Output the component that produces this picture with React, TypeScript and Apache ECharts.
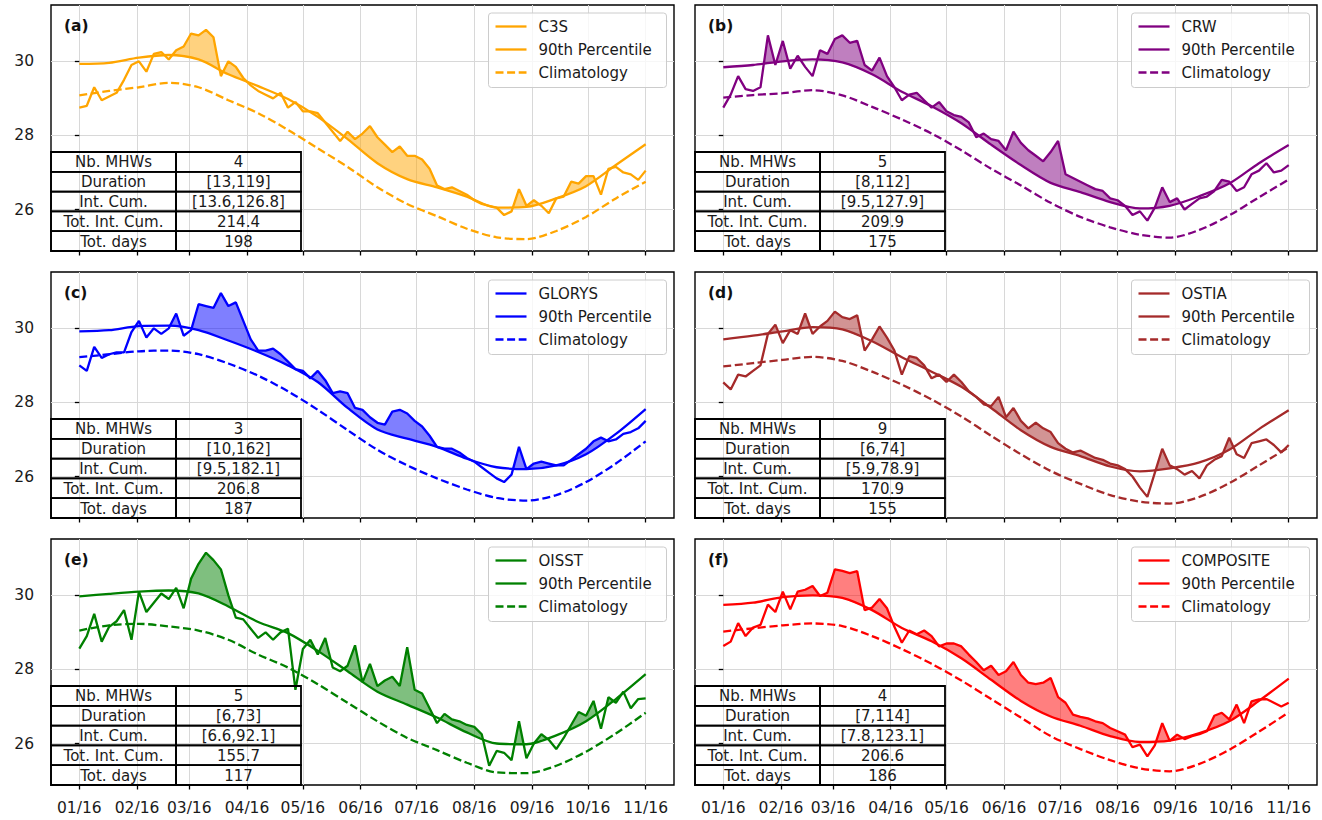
import React, { useEffect, useRef } from 'react';
import * as echarts from 'echarts';

// ---------- axes ----------
const TICK_DAYS = [0, 31, 59, 90, 120, 151, 181, 212, 243, 273, 304];
const TICK_LABELS = ['01/16', '02/16', '03/16', '04/16', '05/16', '06/16', '07/16', '08/16', '09/16', '10/16', '11/16'];
const Y_TICKS = [26, 28, 30];
const SST_STEP = 4; // days between SST samples (starting 01/16)
const CURVE_STEP = 16; // days between threshold / climatology samples

// ---------- data ----------
const SST_A = [28.75, 28.8, 29.3, 28.95, 29.05, 29.15, 29.5, 29.9, 30.0, 29.72, 30.2, 30.25, 30.05, 30.3, 30.4, 30.75, 30.7, 30.85, 30.65, 29.6, 30.0, 29.85, 29.55, 29.35, 29.2, 29.1, 29.0, 29.15, 28.75, 28.9, 28.65, 28.65, 28.6, 28.35, 28.1, 27.85, 28.1, 27.9, 28.05, 28.25, 27.95, 27.75, 27.55, 27.7, 27.45, 27.45, 27.35, 27.1, 26.65, 26.55, 26.6, 26.5, 26.4, 26.25, 26.15, 26.1, 26.05, 25.85, 25.95, 26.55, 26.1, 26.25, 26.1, 25.9, 26.3, 26.35, 26.75, 26.7, 26.9, 26.9, 26.4, 27.1, 27.15, 27.0, 26.95, 26.8, 27.05];
const THR_A = [29.93, 29.96, 30.1, 30.17, 30.05, 29.65, 29.33, 28.98, 28.5, 27.9, 27.25, 26.82, 26.6, 26.35, 26.05, 26.07, 26.3, 26.63, 27.2, 27.76];
const CLIM_A = [29.08, 29.2, 29.3, 29.42, 29.3, 28.95, 28.6, 28.15, 27.65, 27.15, 26.6, 26.15, 25.82, 25.48, 25.25, 25.2, 25.42, 25.8, 26.3, 26.75];
const STATS_A = ['4', '[13,119]', '[13.6,126.8]', '214.4', '198'];

const SST_B = [28.75, 29.1, 29.6, 29.25, 29.2, 29.3, 30.7, 29.9, 30.55, 29.8, 30.15, 29.85, 29.6, 30.3, 30.2, 30.6, 30.7, 30.5, 30.55, 29.9, 29.75, 30.1, 29.6, 29.3, 28.95, 29.1, 29.15, 28.95, 28.75, 28.9, 28.65, 28.55, 28.5, 28.35, 27.95, 28.05, 27.9, 27.85, 27.6, 28.1, 27.8, 27.6, 27.45, 27.3, 27.55, 27.85, 26.95, 26.85, 26.75, 26.65, 26.55, 26.5, 26.3, 26.25, 26.1, 25.85, 25.95, 25.7, 26.05, 26.6, 26.2, 26.3, 26.0, 26.15, 26.3, 26.35, 26.5, 26.8, 26.75, 26.5, 26.6, 26.95, 27.05, 27.25, 27.0, 27.05, 27.2];
const THR_B = [29.84, 29.9, 30.0, 30.05, 29.97, 29.65, 29.18, 28.79, 28.33, 27.75, 27.2, 26.72, 26.47, 26.2, 26.03, 26.1, 26.36, 26.7, 27.25, 27.74];
const CLIM_B = [29.02, 29.09, 29.14, 29.22, 29.08, 28.77, 28.43, 28.05, 27.6, 27.1, 26.65, 26.18, 25.8, 25.52, 25.32, 25.24, 25.45, 25.84, 26.33, 26.81];
const STATS_B = ['5', '[8,112]', '[9.5,127.9]', '209.9', '175'];

const SST_C = [29.0, 28.85, 29.5, 29.2, 29.3, 29.35, 29.35, 29.9, 30.2, 29.75, 30.0, 29.85, 30.0, 30.4, 29.8, 29.95, 30.65, 30.6, 30.55, 30.95, 30.6, 30.7, 30.2, 29.7, 29.4, 29.4, 29.45, 29.3, 29.1, 28.9, 28.85, 28.65, 28.85, 28.6, 28.25, 28.3, 28.25, 27.85, 27.8, 27.6, 27.45, 27.4, 27.75, 27.8, 27.7, 27.5, 27.35, 27.1, 26.8, 26.75, 26.75, 26.65, 26.5, 26.4, 26.25, 26.1, 25.95, 25.85, 26.05, 26.8, 26.2, 26.35, 26.4, 26.35, 26.3, 26.3, 26.45, 26.6, 26.75, 26.95, 27.05, 26.95, 27.0, 27.15, 27.2, 27.3, 27.5];
const THR_C = [29.92, 29.95, 30.06, 30.07, 29.95, 29.67, 29.36, 29.0, 28.55, 27.85, 27.27, 27.02, 26.8, 26.48, 26.25, 26.2, 26.3, 26.6, 27.15, 27.82];
const CLIM_C = [29.22, 29.3, 29.38, 29.4, 29.3, 29.05, 28.72, 28.3, 27.8, 27.25, 26.72, 26.3, 25.95, 25.65, 25.42, 25.35, 25.5, 25.85, 26.35, 26.95];
const STATS_C = ['3', '[10,162]', '[9.5,182.1]', '206.8', '187'];

const SST_D = [28.54, 28.35, 28.75, 28.7, 28.85, 29.0, 29.85, 30.1, 29.6, 29.95, 29.85, 30.4, 29.85, 30.05, 30.2, 30.45, 30.3, 30.25, 30.35, 29.4, 29.7, 30.05, 29.75, 29.4, 28.75, 29.25, 29.2, 29.0, 28.65, 28.75, 28.55, 28.75, 28.55, 28.3, 28.15, 27.95, 27.9, 28.15, 27.6, 27.85, 27.5, 27.3, 27.45, 27.3, 27.2, 26.9, 26.75, 26.65, 26.7, 26.6, 26.5, 26.45, 26.35, 26.3, 26.2, 26.0, 25.7, 25.45, 26.1, 26.75, 26.3, 26.2, 26.05, 26.15, 25.95, 26.3, 26.45, 26.55, 27.05, 26.6, 26.5, 26.9, 26.95, 27.0, 26.85, 26.65, 26.85];
const THR_D = [29.7, 29.8, 29.92, 30.03, 29.97, 29.65, 29.22, 28.83, 28.42, 27.85, 27.25, 26.8, 26.55, 26.27, 26.14, 26.22, 26.38, 26.72, 27.28, 27.79];
const CLIM_D = [28.97, 29.06, 29.15, 29.23, 29.12, 28.83, 28.48, 28.08, 27.62, 27.1, 26.6, 26.15, 25.8, 25.5, 25.32, 25.27, 25.45, 25.82, 26.3, 26.79];
const STATS_D = ['9', '[6,74]', '[5.9,78.9]', '170.9', '155'];

const SST_E = [28.56, 28.9, 29.5, 28.75, 29.15, 29.3, 29.6, 28.8, 30.1, 29.55, 29.8, 30.05, 29.9, 30.2, 29.65, 30.45, 30.85, 31.15, 30.95, 30.7, 30.0, 29.4, 29.35, 29.1, 28.85, 29.0, 28.8, 29.0, 29.1, 27.45, 28.55, 28.8, 28.4, 28.85, 28.05, 27.95, 28.1, 28.65, 27.65, 28.15, 27.55, 27.7, 27.8, 27.55, 28.6, 27.45, 27.35, 26.95, 26.55, 26.8, 26.65, 26.6, 26.5, 26.45, 26.25, 25.4, 25.8, 25.75, 25.55, 26.6, 25.6, 26.0, 26.25, 26.1, 25.85, 26.15, 26.5, 26.85, 26.75, 27.15, 26.4, 27.25, 27.1, 27.4, 26.95, 27.2, 27.22];
const THR_E = [29.97, 30.04, 30.1, 30.13, 30.05, 29.7, 29.28, 28.98, 28.5, 27.95, 27.4, 27.05, 26.7, 26.3, 26.0, 25.98, 26.22, 26.6, 27.2, 27.87];
const CLIM_E = [29.05, 29.19, 29.23, 29.16, 29.05, 28.8, 28.4, 28.05, 27.6, 27.1, 26.6, 26.15, 25.82, 25.48, 25.22, 25.2, 25.4, 25.78, 26.27, 26.83];
const STATS_E = ['5', '[6,73]', '[6.6,92.1]', '155.7', '117'];

const SST_F = [28.63, 28.75, 29.25, 28.9, 29.13, 29.2, 29.75, 29.55, 30.1, 29.62, 30.1, 30.15, 30.25, 29.98, 30.07, 30.7, 30.66, 30.6, 30.65, 29.6, 29.67, 29.9, 29.65, 29.15, 28.72, 29.05, 28.95, 29.05, 28.9, 28.62, 28.7, 28.7, 28.62, 28.4, 28.2, 27.98, 28.1, 27.85, 27.95, 28.2, 27.85, 27.64, 27.6, 27.64, 27.77, 27.25, 27.1, 26.78, 26.72, 26.68, 26.6, 26.55, 26.42, 26.33, 26.24, 25.9, 25.97, 25.65, 25.95, 26.55, 26.07, 26.24, 26.12, 26.2, 26.25, 26.33, 26.75, 26.83, 26.65, 27.05, 26.55, 27.14, 27.19, 27.2, 27.1, 27.0, 27.1];
const THR_F = [29.74, 29.8, 29.95, 30.0, 29.93, 29.6, 29.12, 28.76, 28.3, 27.72, 27.15, 26.73, 26.48, 26.2, 26.04, 26.08, 26.28, 26.6, 27.15, 27.75];
const CLIM_F = [29.02, 29.11, 29.19, 29.24, 29.17, 28.9, 28.55, 28.15, 27.7, 27.2, 26.7, 26.2, 25.85, 25.55, 25.33, 25.25, 25.45, 25.83, 26.32, 26.84];
const STATS_F = ['4', '[7,114]', '[7.8,123.1]', '206.6', '186'];

const STAT_LABELS = ['Nb. MHWs', 'Duration', 'Int. Cum.', 'Tot. Int. Cum.', 'Tot. days'];
const LEGEND_LABELS = ['90th Percentile', 'Climatology'];

const PANELS = [
  { tag: '(a)', name: 'C3S', color: '#FFA500', fill: 'rgba(255,165,0,0.5)', sst: SST_A, thr: THR_A, clim: CLIM_A, stats: STATS_A },
  { tag: '(b)', name: 'CRW', color: '#800080', fill: 'rgba(128,0,128,0.5)', sst: SST_B, thr: THR_B, clim: CLIM_B, stats: STATS_B },
  { tag: '(c)', name: 'GLORYS', color: '#0000FF', fill: 'rgba(0,0,255,0.5)', sst: SST_C, thr: THR_C, clim: CLIM_C, stats: STATS_C },
  { tag: '(d)', name: 'OSTIA', color: '#A52A2A', fill: 'rgba(165,42,42,0.5)', sst: SST_D, thr: THR_D, clim: CLIM_D, stats: STATS_D },
  { tag: '(e)', name: 'OISST', color: '#008000', fill: 'rgba(0,128,0,0.5)', sst: SST_E, thr: THR_E, clim: CLIM_E, stats: STATS_E },
  { tag: '(f)', name: 'COMPOSITE', color: '#FF0000', fill: 'rgba(255,0,0,0.5)', sst: SST_F, thr: THR_F, clim: CLIM_F, stats: STATS_F },
];

// ---------- layout ----------
const COL_LEFT = [51, 695];
const COL_WIDTH = [623, 622];
const ROW_TOP = [5, 272, 539];
const PANEL_H = 246;
const X_MIN = -15.2;
const X_MAX = 319.2;
const Y_MIN = 24.88;
const Y_MAX = 31.52;
const FONT = '"DejaVu Sans", "Noto Sans", sans-serif';
const TEXT_COLOR = '#1a1a1a';
const DASH = [8, 3.6];
const LW = 2.3;

function thrAt(arr: number[], t: number) {
  const j = Math.min(Math.floor(t / CURVE_STEP), arr.length - 2);
  const f = (t - j * CURVE_STEP) / CURVE_STEP;
  return arr[j] + (arr[j + 1] - arr[j]) * f;
}

function exceedPolys(sst: number[], thr: number[]) {
  const pts = sst.map((v, i) => ({ t: i * SST_STEP, s: v, h: thrAt(thr, i * SST_STEP) }));
  const polys: number[][][] = [];
  let upper: number[][] | null = null;
  let lower: number[][] = [];
  for (let i = 0; i < pts.length; i++) {
    const p = pts[i];
    const d = p.s - p.h;
    if (i > 0) {
      const q = pts[i - 1];
      const dq = q.s - q.h;
      if ((dq > 0) !== (d > 0)) {
        const f = dq / (dq - d);
        const tc = q.t + f * (p.t - q.t);
        const sc = q.s + f * (p.s - q.s);
        if (dq > 0 && upper) {
          upper.push([tc, sc]);
          polys.push(upper.concat(lower.slice().reverse()));
          upper = null;
          lower = [];
        } else {
          upper = [[tc, sc]];
          lower = [];
        }
      }
    }
    if (d > 0) {
      if (!upper) { upper = []; lower = []; }
      upper.push([p.t, p.s]);
      lower.push([p.t, p.h]);
    }
  }
  if (upper) polys.push(upper.concat(lower.slice().reverse()));
  return polys;
}

function buildOption() {
  const grid: any[] = [];
  const xAxis: any[] = [];
  const yAxis: any[] = [];
  const series: any[] = [];
  const graphic: any[] = [];

  PANELS.forEach((p, k) => {
    const col = k % 2;
    const row = Math.floor(k / 2);
    const left = COL_LEFT[col];
    const width = COL_WIDTH[col];
    const top = ROW_TOP[row];
    const bottom = top + PANEL_H;
    const right = left + width;

    grid.push({ left, top, width, height: PANEL_H, show: true, borderColor: '#000', borderWidth: 1.4, backgroundColor: 'transparent', containLabel: false });

    xAxis.push({
      type: 'value', gridIndex: k, min: X_MIN, max: X_MAX,
      axisLine: { show: false },
      axisTick: { show: true, customValues: TICK_DAYS, length: 4.5, lineStyle: { color: '#000', width: 1.3 } },
      axisLabel: {
        show: row === 2, customValues: TICK_DAYS, margin: 15, fontSize: 15.5, fontFamily: FONT, color: TEXT_COLOR,
        formatter: (v: number) => { const i = TICK_DAYS.indexOf(Math.round(v)); return i >= 0 ? TICK_LABELS[i] : ''; },
      },
      splitLine: { show: true, lineStyle: { color: '#d8d8d8', width: 1 } },
    });
    yAxis.push({
      type: 'value', gridIndex: k, min: Y_MIN, max: Y_MAX,
      axisLine: { show: false },
      axisTick: { show: true, customValues: Y_TICKS, length: 4.5, lineStyle: { color: '#000', width: 1.3 } },
      axisLabel: { show: col === 0, customValues: Y_TICKS, margin: 17, fontSize: 15.5, fontFamily: FONT, color: TEXT_COLOR },
      splitLine: { show: true, lineStyle: { color: '#d8d8d8', width: 1 } },
    });

    const polys = exceedPolys(p.sst, p.thr);
    series.push({
      type: 'custom', xAxisIndex: k, yAxisIndex: k, silent: true, z: 2, clip: true,
      data: [[0, 28]],
      renderItem: (_params: any, api: any) => ({
        type: 'group',
        children: polys.map((poly) => ({
          type: 'polygon',
          shape: { points: poly.map((q) => api.coord(q)) },
          style: { fill: p.fill, stroke: 'none' },
        })),
      }),
    });
    series.push({
      type: 'line', xAxisIndex: k, yAxisIndex: k, silent: true, z: 3, symbol: 'none', smooth: 0.3,
      data: p.clim.map((v, i) => [i * CURVE_STEP, v]),
      lineStyle: { color: p.color, width: LW, type: DASH },
    });
    series.push({
      type: 'line', xAxisIndex: k, yAxisIndex: k, silent: true, z: 3, symbol: 'none', smooth: 0.3,
      data: p.thr.map((v, i) => [i * CURVE_STEP, v]),
      lineStyle: { color: p.color, width: LW },
    });
    series.push({
      type: 'line', xAxisIndex: k, yAxisIndex: k, silent: true, z: 4, symbol: 'none',
      data: p.sst.map((v, i) => [i * SST_STEP, v]),
      lineStyle: { color: p.color, width: LW },
    });

    // panel tag
    graphic.push({ type: 'text', x: left + 13, y: top + 20.5, z: 100, style: { text: p.tag, fontSize: 15.5, fontWeight: 'bold', fontFamily: FONT, fill: '#111', verticalAlign: 'middle' } });

    // legend
    const bw = 178;
    const bx = right - 7.5 - bw;
    const by = top + 8;
    graphic.push({ type: 'rect', z: 100, shape: { x: bx, y: by, width: bw, height: 74.5, r: 3 }, style: { fill: 'rgba(255,255,255,0.8)', stroke: '#cccccc', lineWidth: 1 } });
    const labels = [p.name, LEGEND_LABELS[0], LEGEND_LABELS[1]];
    labels.forEach((lab, j) => {
      const ly = top + 21.5 + j * 23;
      graphic.push({ type: 'line', z: 101, shape: { x1: bx + 7, y1: ly, x2: bx + 38, y2: ly }, style: { stroke: p.color, lineWidth: LW, lineDash: j === 2 ? DASH : null } });
      graphic.push({ type: 'text', z: 101, x: bx + 50, y: ly, style: { text: lab, fontSize: 15, fontFamily: FONT, fill: TEXT_COLOR, verticalAlign: 'middle', align: 'left' } });
    });

    // table
    const rh = 19.8;
    const ty = bottom - rh * 5;
    const cw = [125, 125];
    STAT_LABELS.forEach((lab, j) => {
      const y = ty + j * rh;
      graphic.push({ type: 'rect', z: 100, shape: { x: left, y, width: cw[0], height: rh }, style: { fill: 'rgba(255,255,255,0)', stroke: '#000', lineWidth: 1.8 } });
      graphic.push({ type: 'rect', z: 100, shape: { x: left + cw[0], y, width: cw[1], height: rh }, style: { fill: 'rgba(255,255,255,0)', stroke: '#000', lineWidth: 1.8 } });
      graphic.push({ type: 'text', z: 101, x: left + cw[0] / 2, y: y + rh / 2 + 0.5, style: { text: lab, fontSize: 15, fontFamily: FONT, fill: TEXT_COLOR, align: 'center', verticalAlign: 'middle' } });
      graphic.push({ type: 'text', z: 101, x: left + cw[0] + cw[1] / 2, y: y + rh / 2 + 0.5, style: { text: p.stats[j], fontSize: 15, fontFamily: FONT, fill: TEXT_COLOR, align: 'center', verticalAlign: 'middle' } });
    });
  });

  return { animation: false, backgroundColor: '#fff', grid, xAxis, yAxis, series, graphic };
}

export default function App() {
  const ref = useRef<HTMLDivElement>(null);
  useEffect(() => {
    if (!ref.current) return;
    const chart = echarts.init(ref.current, null, { renderer: 'svg' });
    chart.setOption(buildOption() as any);
    return () => chart.dispose();
  }, []);
  return <div ref={ref} style={{ position: 'absolute', left: 0, top: 0, width: 1322, height: 820, background: '#fff' }} />;
}
